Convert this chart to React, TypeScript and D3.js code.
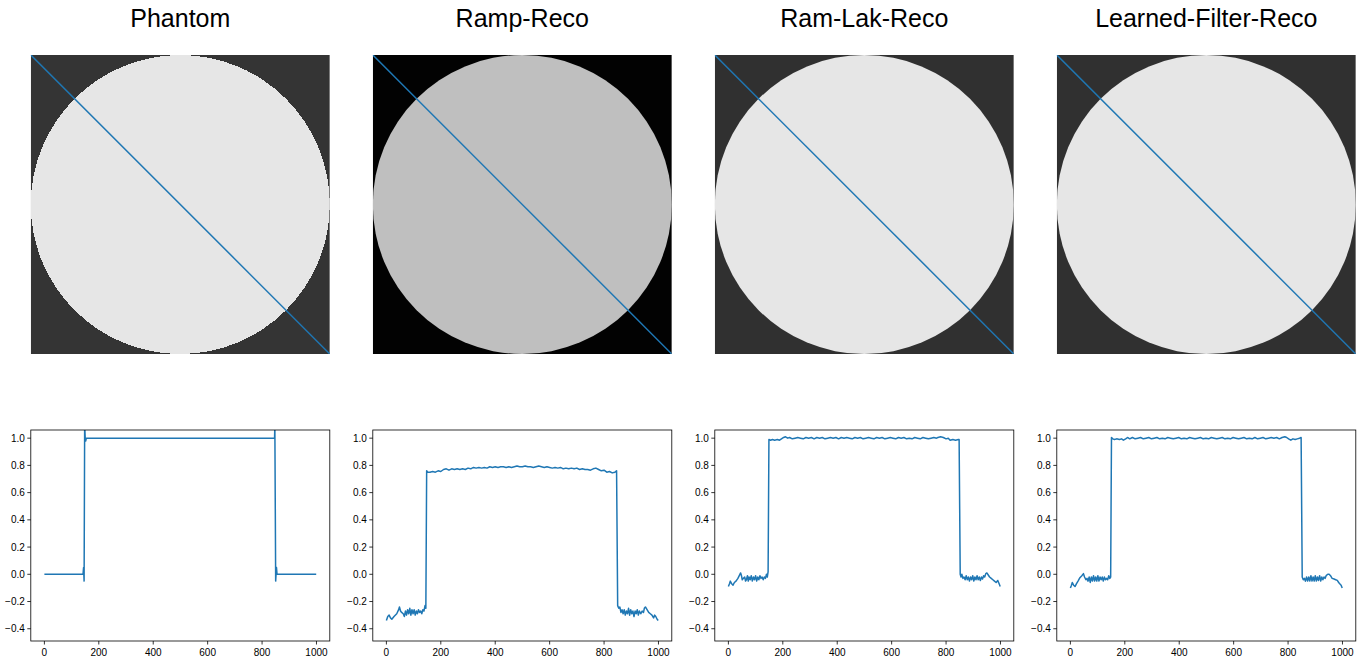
import React from "react";
import * as d3 from "d3";

const titles = ["Phantom", "Ramp-Reco", "Ram-Lak-Reco", "Learned-Filter-Reco"];
const backgroundValues = [0.0, -0.28, -0.02, -0.02];
const discValues = [1.0, 0.78, 1.0, 1.0];
const xTicks = [0, 200, 400, 600, 800, 1000];
const yTicks = [-0.4, -0.2, 0.0, 0.2, 0.4, 0.6, 0.8, 1.0];

const phantomProfile: [number, number][] = [
  [0, 0], [142, 0], [144, 0.05], [146, -0.05], [148, 1.1], [150, 1.0], [152, 0.98], [154, 1.0],
  [846, 1.0], [847, 1.1], [850, -0.05], [853, 0.05], [855, 0], [999, 0],
];

const rampProfile: [number, number][] = [
  [0, -0.34], [5, -0.31], [10, -0.3], [15, -0.32], [20, -0.33], [28, -0.31], [38, -0.29], [45, -0.26],
  [48, -0.24], [52, -0.27], [56, -0.28], [62, -0.29], [66, -0.31], [70, -0.27], [74, -0.3], [78, -0.26],
  [82, -0.29], [86, -0.25], [90, -0.3], [94, -0.26], [98, -0.29], [102, -0.26], [106, -0.3], [110, -0.27],
  [114, -0.29], [118, -0.26], [122, -0.28], [126, -0.27], [130, -0.29], [134, -0.26], [138, -0.27],
  [142, -0.23], [145, -0.25], [148, 0.76], [152, 0.75], [160, 0.75], [170, 0.755], [180, 0.75],
  [190, 0.76], [200, 0.755], [210, 0.77], [220, 0.775], [230, 0.765], [240, 0.775], [250, 0.77],
  [260, 0.775], [270, 0.77], [280, 0.775], [290, 0.77], [300, 0.78], [310, 0.775], [320, 0.785],
  [330, 0.78], [340, 0.785], [350, 0.78], [360, 0.785], [370, 0.78], [380, 0.79], [390, 0.785],
  [400, 0.79], [410, 0.785], [420, 0.79], [430, 0.79], [440, 0.785], [450, 0.79], [460, 0.785],
  [470, 0.79], [480, 0.795], [490, 0.79], [500, 0.79], [510, 0.795], [520, 0.79], [530, 0.79],
  [540, 0.785], [550, 0.79], [560, 0.795], [570, 0.79], [580, 0.785], [590, 0.79], [600, 0.785],
  [610, 0.78], [620, 0.785], [630, 0.78], [640, 0.785], [650, 0.775], [660, 0.78], [670, 0.775],
  [680, 0.78], [690, 0.775], [700, 0.78], [710, 0.77], [720, 0.775], [730, 0.77], [740, 0.77],
  [750, 0.765], [760, 0.775], [770, 0.78], [780, 0.77], [790, 0.76], [800, 0.765], [810, 0.75],
  [820, 0.755], [830, 0.745], [840, 0.75], [846, 0.76], [850, -0.23], [854, -0.25], [858, -0.24],
  [862, -0.28], [866, -0.26], [870, -0.29], [874, -0.26], [878, -0.3], [882, -0.27], [886, -0.29],
  [890, -0.25], [894, -0.3], [898, -0.26], [902, -0.29], [906, -0.27], [910, -0.31], [914, -0.27],
  [918, -0.29], [922, -0.26], [926, -0.3], [930, -0.27], [935, -0.29], [940, -0.27], [945, -0.28],
  [948, -0.25], [952, -0.24], [958, -0.26], [964, -0.28], [970, -0.29], [976, -0.3], [982, -0.32],
  [986, -0.3], [990, -0.31], [995, -0.33], [999, -0.34],
];

const ramLakProfile: [number, number][] = [
  [0, -0.09], [4, -0.07], [7, -0.05], [12, -0.07], [17, -0.08], [22, -0.06], [28, -0.05], [35, -0.03],
  [40, -0.01], [45, 0.01], [48, -0.01], [51, -0.04], [55, -0.03], [60, -0.02], [63, -0.05], [66, -0.04],
  [70, -0.01], [73, -0.05], [76, -0.02], [80, -0.04], [84, -0.01], [88, -0.05], [92, -0.02], [96, -0.04],
  [100, -0.01], [104, -0.05], [108, -0.02], [112, -0.04], [116, -0.01], [120, -0.03], [124, -0.02],
  [128, -0.04], [132, -0.02], [136, -0.03], [140, 0.0], [143, -0.02], [146, 0.02], [149, 0.99],
  [155, 0.985], [162, 0.99], [170, 0.985], [180, 0.99], [188, 0.985], [195, 0.995], [203, 1.005],
  [210, 1.01], [218, 1.0], [225, 1.005], [235, 0.995], [245, 1.0], [255, 1.005], [265, 1.0],
  [275, 0.995], [285, 1.005], [295, 1.0], [305, 1.005], [315, 0.995], [325, 1.005], [335, 1.0],
  [345, 1.005], [355, 0.995], [365, 1.0], [375, 1.005], [385, 1.0], [395, 1.005], [405, 0.995],
  [415, 1.005], [425, 1.0], [435, 1.005], [445, 1.0], [455, 0.995], [465, 1.005], [475, 1.0],
  [485, 1.005], [495, 0.995], [505, 1.0], [515, 1.005], [525, 1.0], [535, 0.995], [545, 1.005],
  [555, 1.0], [565, 1.005], [575, 0.995], [585, 1.0], [595, 1.005], [605, 1.0], [615, 0.995],
  [625, 1.005], [635, 1.0], [645, 1.005], [655, 0.995], [665, 1.0], [675, 0.995], [685, 1.005],
  [695, 1.0], [705, 0.995], [715, 1.005], [725, 1.0], [735, 0.995], [745, 1.0], [755, 1.005],
  [765, 1.0], [770, 1.005], [780, 1.01], [790, 1.005], [800, 0.995], [808, 1.0], [815, 0.985],
  [825, 0.99], [835, 0.985], [845, 0.99], [848, 0.99], [852, 0.0], [855, -0.02], [858, 0.0],
  [862, -0.03], [866, -0.02], [870, -0.04], [874, -0.01], [878, -0.04], [882, -0.02], [886, -0.05],
  [890, -0.02], [894, -0.04], [898, -0.01], [902, -0.05], [906, -0.02], [910, -0.04], [914, -0.01],
  [918, -0.04], [922, -0.02], [926, -0.045], [930, -0.02], [934, -0.035], [938, -0.01], [942, -0.02],
  [946, 0.005], [950, 0.01], [955, -0.005], [960, -0.02], [966, -0.03], [972, -0.04], [978, -0.05],
  [984, -0.06], [990, -0.045], [995, -0.07], [999, -0.09],
];

const learnedProfile: [number, number][] = [
  [0, -0.1], [4, -0.08], [7, -0.06], [12, -0.08], [17, -0.09], [22, -0.07], [28, -0.05], [35, -0.025],
  [42, -0.01], [48, 0.005], [52, -0.02], [57, -0.04], [61, -0.03], [65, -0.05], [69, -0.02], [73, -0.06],
  [77, -0.02], [81, -0.05], [85, -0.01], [89, -0.05], [93, -0.02], [97, -0.05], [101, -0.01],
  [105, -0.05], [109, -0.02], [113, -0.04], [117, -0.02], [121, -0.05], [125, -0.02], [129, -0.04],
  [133, -0.03], [137, -0.04], [141, -0.01], [145, -0.03], [148, -0.02], [151, 1.005], [156, 0.995],
  [162, 0.99], [170, 0.995], [180, 0.99], [188, 0.995], [195, 0.985], [203, 0.995], [210, 1.005],
  [218, 0.995], [228, 1.005], [238, 0.995], [248, 1.0], [258, 1.005], [268, 0.995], [278, 1.0],
  [288, 1.005], [298, 0.995], [308, 1.0], [318, 1.005], [328, 0.995], [338, 1.0], [348, 0.995],
  [358, 1.005], [368, 1.0], [378, 0.995], [388, 1.0], [398, 1.005], [408, 0.995], [418, 1.0],
  [428, 0.995], [438, 1.005], [448, 1.0], [458, 0.995], [468, 1.0], [478, 1.005], [488, 0.995],
  [498, 1.0], [508, 0.995], [518, 1.005], [528, 1.0], [538, 0.995], [548, 1.0], [558, 1.005],
  [568, 0.995], [578, 1.0], [588, 0.995], [598, 1.005], [608, 1.0], [618, 0.995], [628, 1.0],
  [638, 1.005], [648, 0.995], [658, 1.0], [668, 0.995], [678, 1.005], [688, 0.995], [698, 1.0],
  [708, 1.005], [718, 0.995], [728, 1.0], [738, 1.005], [748, 1.0], [758, 1.005], [768, 0.995],
  [778, 1.005], [788, 1.01], [795, 1.005], [802, 0.995], [810, 0.985], [818, 0.995], [826, 0.99],
  [834, 0.995], [842, 1.0], [848, 1.005], [852, -0.02], [856, -0.04], [860, -0.03], [864, -0.05],
  [868, -0.02], [872, -0.05], [876, -0.02], [880, -0.05], [884, -0.01], [888, -0.05], [892, -0.02],
  [896, -0.05], [900, -0.01], [904, -0.05], [908, -0.02], [912, -0.045], [916, -0.01], [920, -0.05],
  [924, -0.02], [928, -0.04], [932, -0.02], [936, -0.03], [940, -0.01], [946, 0.0], [951, 0.0],
  [956, -0.01], [962, -0.03], [969, -0.035], [975, -0.04], [981, -0.045], [986, -0.06], [990, -0.07],
  [995, -0.08], [999, -0.1],
];

const profiles = [phantomProfile, rampProfile, ramLakProfile, learnedProfile];

const W = 1369;
const H = 663;
const COL_LEFT = 30.8;
const COL_STEP = 342;
const PANEL = 299;
const IMG_TOP = 55;
const PLOT_TOP = 430;
const PLOT_H = 211;
const FONT = "'Liberation Sans', Arial, sans-serif";
const BLUE = "#1f77b4";

const gray = d3.scaleLinear<number>().domain([-0.29, 1.14]).range([0, 255]).clamp(true);
const toGray = (v: number) => {
  const g = Math.round(gray(v));
  return d3.rgb(g, g, g).formatHex();
};

export default function App() {
  const x = d3.scaleLinear().domain([-49.95, 1048.95]).range([0, PANEL]);
  const y = d3.scaleLinear().domain([-0.49, 1.06]).range([PLOT_H, 0]);
  const line = d3
    .line<[number, number]>()
    .x((d) => x(d[0]))
    .y((d) => y(d[1]));

  return (
    <svg
      width={W}
      height={H}
      style={{ position: "absolute", left: 0, top: 0, display: "block", background: "#fff" }}
      fontFamily={FONT}
    >
      <defs>
        <filter id="soft" x="-5%" y="-5%" width="110%" height="110%">
          <feGaussianBlur stdDeviation="0.6" />
        </filter>
        <clipPath id="imgclip">
          <rect x={0} y={0} width={PANEL} height={PANEL} />
        </clipPath>
        <clipPath id="plotclip">
          <rect x={0} y={0} width={PANEL} height={PLOT_H} />
        </clipPath>
      </defs>
      {titles.map((t, i) => {
        const left = COL_LEFT + COL_STEP * i;
        return (
          <g key={t}>
            <text x={left + PANEL / 2} y={27} textAnchor="middle" fontSize={25} fill="#000">
              {t}
            </text>
            <g transform={`translate(${left},${IMG_TOP})`} clipPath="url(#imgclip)">
              <rect x={0} y={0} width={PANEL} height={PANEL} fill={toGray(backgroundValues[i])} />
              <circle
                cx={PANEL / 2}
                cy={PANEL / 2}
                r={PANEL / 2}
                fill={toGray(discValues[i])}
                shapeRendering={i === 0 ? "crispEdges" : undefined}
                filter={i === 0 ? undefined : "url(#soft)"}
              />
              <line x1={0} y1={0} x2={PANEL} y2={PANEL} stroke={BLUE} strokeWidth={1.5} />
            </g>
            <g transform={`translate(${left},${PLOT_TOP})`}>
              <rect x={0} y={0} width={PANEL} height={PLOT_H} fill="#fff" />
              <path
                d={line(profiles[i]) || ""}
                fill="none"
                stroke={BLUE}
                strokeWidth={1.5}
                strokeLinejoin="round"
                clipPath="url(#plotclip)"
              />
              <rect x={0} y={0} width={PANEL} height={PLOT_H} fill="none" stroke="#000" strokeWidth={0.8} />
              {yTicks.map((v) => (
                <g key={`y${v}`} transform={`translate(0,${y(v)})`}>
                  <line x1={-3.5} x2={0} stroke="#000" strokeWidth={0.8} />
                  <text x={-6} dy="0.35em" textAnchor="end" fontSize={10} fill="#000">
                    {d3.format(".1f")(v).replace("-", "\u2212")}
                  </text>
                </g>
              ))}
              {xTicks.map((v) => (
                <g key={`x${v}`} transform={`translate(${x(v)},${PLOT_H})`}>
                  <line y1={0} y2={3.5} stroke="#000" strokeWidth={0.8} />
                  <text y={14.5} textAnchor="middle" fontSize={10} fill="#000">
                    {v}
                  </text>
                </g>
              ))}
            </g>
          </g>
        );
      })}
    </svg>
  );
}
